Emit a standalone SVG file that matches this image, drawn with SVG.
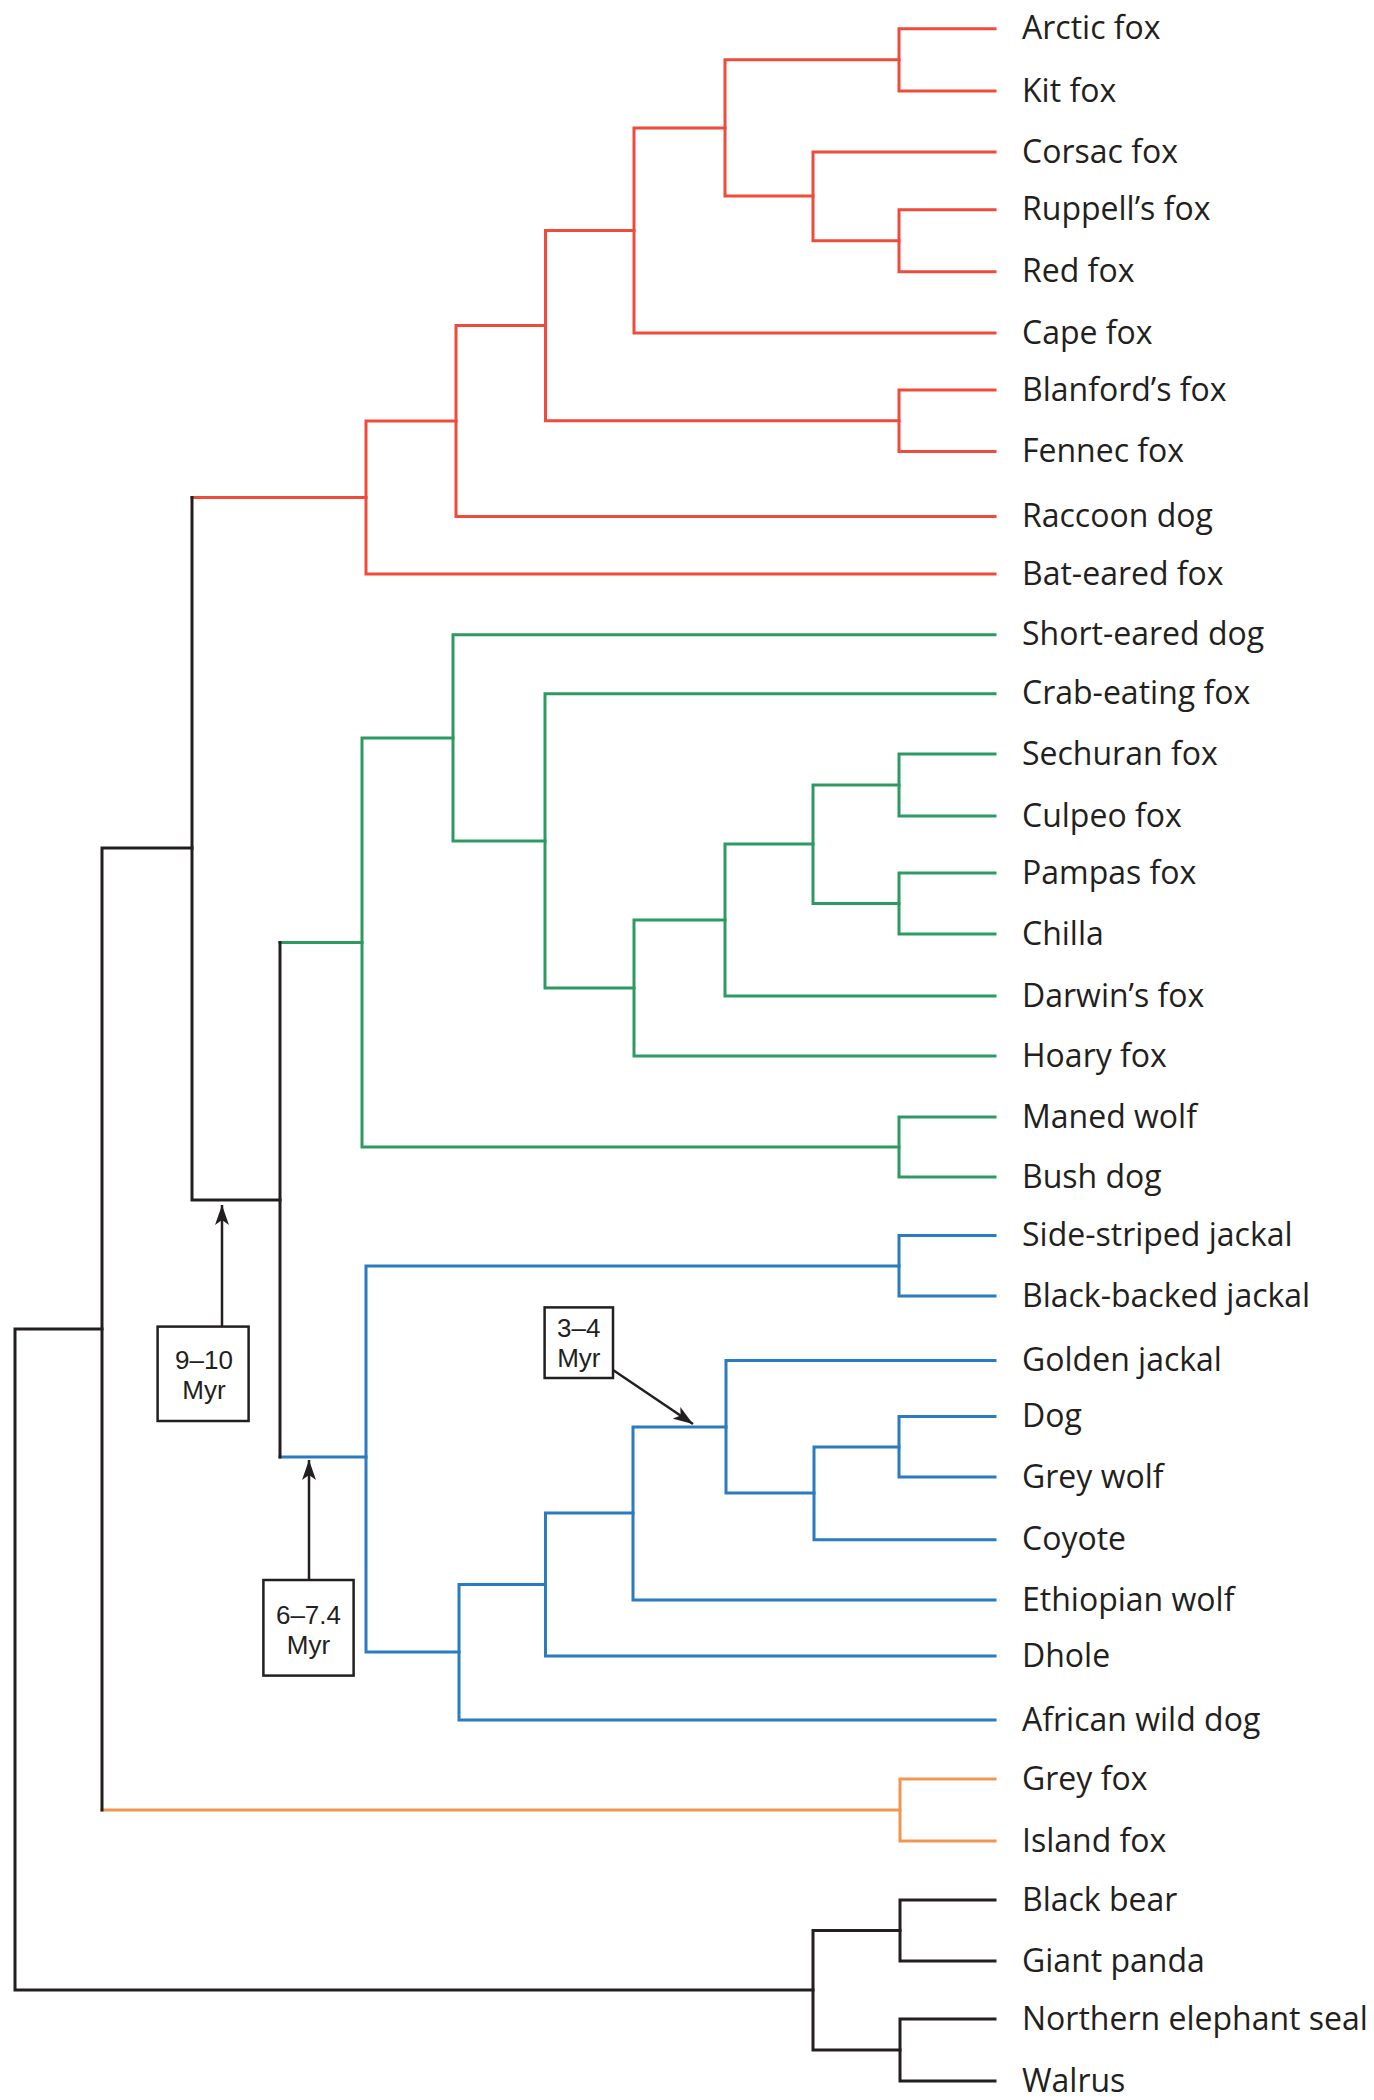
<svg xmlns="http://www.w3.org/2000/svg" width="1374" height="2100" viewBox="0 0 1374 2100">
<style>
  .br{fill:none;stroke-width:3;stroke-linecap:square;stroke-linejoin:miter}
  .red{stroke:#EE4B3A}
  .grn{stroke:#2E9A63}
  .blu{stroke:#2A7BBF}
  .org{stroke:#F29553}
  .blk{stroke:#231F20}
  .lbl{font-family:"Open Sans","Liberation Sans",sans-serif;font-size:32px;fill:#231F20}
  .age{font-family:"Liberation Sans",Arial,sans-serif;font-size:26px;fill:#231F20;text-anchor:middle}
  .box{fill:#FFFFFF;stroke:#231F20;stroke-width:2.5}
  .arr{stroke:#231F20;stroke-width:2.5;fill:none}
</style>
<defs>
  <marker id="ah" markerUnits="userSpaceOnUse" markerWidth="20" markerHeight="14" refX="20" refY="7" orient="auto">
    <path d="M0,0 L20,7 L0,14 L5,7 z" fill="#231F20"/>
  </marker>
</defs>
<rect width="1374" height="2100" fill="#FFFFFF"/>
<g id="connectors">
  <g class="br red">
    <path d="M995,28.7 H899 V91 H995"/>
    <path d="M995,209.7 H899 V271.7 H995"/>
    <path d="M995,390 H899 V451.6 H995"/>
    <path d="M995,152 H813 V240.7 H899"/>
    <path d="M899,59.85 H725 V196 H813"/>
    <path d="M725,128 H634 V333 H995"/>
    <path d="M634,230.5 H545.5 V420.8 H899"/>
    <path d="M545.5,325.6 H456 V516.6 H995"/>
    <path d="M456,421 H366 V574 H995"/>
    <path d="M192,497.5 H366"/>
  </g>
  <g class="br grn">
    <path d="M995,754 H899 V816 H995"/>
    <path d="M995,873 H899 V934 H995"/>
    <path d="M899,785 H813 V903.5 H899"/>
    <path d="M813,844 H725 V996 H995"/>
    <path d="M725,920 H634 V1056 H995"/>
    <path d="M995,693.7 H545 V988 H634"/>
    <path d="M995,634.7 H453 V841 H545"/>
    <path d="M995,1117 H899 V1177 H995"/>
    <path d="M453,738 H362 V1147 H899"/>
    <path d="M280,942.5 H362"/>
  </g>
  <g class="br blu">
    <path d="M995,1235.5 H899 V1296 H995"/>
    <path d="M995,1416.5 H899 V1477 H995"/>
    <path d="M899,1447 H814 V1539.7 H995"/>
    <path d="M995,1360.6 H726 V1493 H814"/>
    <path d="M726,1427 H633 V1600 H995"/>
    <path d="M633,1513 H545.5 V1656 H995"/>
    <path d="M545.5,1584.5 H459 V1720 H995"/>
    <path d="M899,1266 H366 V1652 H459"/>
    <path d="M280,1457 H366"/>
  </g>
  <g class="br org">
    <path d="M102,1810 H900"/>
    <path d="M995,1779 H900 V1841 H995"/>
  </g>
  <g class="br blk">
    <path d="M192,497.5 V1200 H280"/>
    <path d="M280,942.5 V1457"/>
    <path d="M192,848 H102 V1810"/>
    <path d="M102,1329 H15 V1990 H813"/>
    <path d="M900,1930.5 H813 V2050 H900"/>
    <path d="M995,1900 H900 V1961 H995"/>
    <path d="M995,2019 H900 V2081 H995"/>
  </g>
  <g id="age-arrows">
    <line class="arr" x1="222" y1="1326.6" x2="222" y2="1205" marker-end="url(#ah)"/>
    <line class="arr" x1="309" y1="1580" x2="309" y2="1460" marker-end="url(#ah)"/>
    <line class="arr" x1="613" y1="1370" x2="693" y2="1424" marker-end="url(#ah)"/>
  </g>
</g>
<g id="leaves">
  <g id="n-arctic-fox"><text class="lbl" x="1022" y="39.3">Arctic fox</text></g>
  <g id="n-kit-fox"><text class="lbl" x="1022" y="101.6">Kit fox</text></g>
  <g id="n-corsac-fox"><text class="lbl" x="1022" y="162.6">Corsac fox</text></g>
  <g id="n-ruppells-fox"><text class="lbl" x="1022" y="220.3">Ruppell’s fox</text></g>
  <g id="n-red-fox"><text class="lbl" x="1022" y="282.3">Red fox</text></g>
  <g id="n-cape-fox"><text class="lbl" x="1022" y="343.6">Cape fox</text></g>
  <g id="n-blanfords-fox"><text class="lbl" x="1022" y="400.6">Blanford’s fox</text></g>
  <g id="n-fennec-fox"><text class="lbl" x="1022" y="462.2">Fennec fox</text></g>
  <g id="n-raccoon-dog"><text class="lbl" x="1022" y="527.2">Raccoon dog</text></g>
  <g id="n-bat-eared-fox"><text class="lbl" x="1022" y="584.6">Bat-eared fox</text></g>
  <g id="n-short-eared-dog"><text class="lbl" x="1022" y="645.3">Short-eared dog</text></g>
  <g id="n-crab-eating-fox"><text class="lbl" x="1022" y="704.3">Crab-eating fox</text></g>
  <g id="n-sechuran-fox"><text class="lbl" x="1022" y="764.6">Sechuran fox</text></g>
  <g id="n-culpeo-fox"><text class="lbl" x="1022" y="826.6">Culpeo fox</text></g>
  <g id="n-pampas-fox"><text class="lbl" x="1022" y="883.6">Pampas fox</text></g>
  <g id="n-chilla"><text class="lbl" x="1022" y="944.6">Chilla</text></g>
  <g id="n-darwins-fox"><text class="lbl" x="1022" y="1006.6">Darwin’s fox</text></g>
  <g id="n-hoary-fox"><text class="lbl" x="1022" y="1066.6">Hoary fox</text></g>
  <g id="n-maned-wolf"><text class="lbl" x="1022" y="1127.6">Maned wolf</text></g>
  <g id="n-bush-dog"><text class="lbl" x="1022" y="1187.6">Bush dog</text></g>
  <g id="n-side-striped-jackal"><text class="lbl" x="1022" y="1246.1">Side-striped jackal</text></g>
  <g id="n-black-backed-jackal"><text class="lbl" x="1022" y="1306.6">Black-backed jackal</text></g>
  <g id="n-golden-jackal"><text class="lbl" x="1022" y="1371.2">Golden jackal</text></g>
  <g id="n-dog"><text class="lbl" x="1022" y="1427.1">Dog</text></g>
  <g id="n-grey-wolf"><text class="lbl" x="1022" y="1487.6">Grey wolf</text></g>
  <g id="n-coyote"><text class="lbl" x="1022" y="1550.3">Coyote</text></g>
  <g id="n-ethiopian-wolf"><text class="lbl" x="1022" y="1610.6">Ethiopian wolf</text></g>
  <g id="n-dhole"><text class="lbl" x="1022" y="1666.6">Dhole</text></g>
  <g id="n-african-wild-dog"><text class="lbl" x="1022" y="1730.6">African wild dog</text></g>
  <g id="n-grey-fox"><text class="lbl" x="1022" y="1789.6">Grey fox</text></g>
  <g id="n-island-fox"><text class="lbl" x="1022" y="1851.6">Island fox</text></g>
  <g id="n-black-bear"><text class="lbl" x="1022" y="1910.6">Black bear</text></g>
  <g id="n-giant-panda"><text class="lbl" x="1022" y="1971.6">Giant panda</text></g>
  <g id="n-northern-elephant-seal"><text class="lbl" x="1022" y="2029.6">Northern elephant seal</text></g>
  <g id="n-walrus"><text class="lbl" x="1022" y="2091.6">Walrus</text></g>
</g>
<g id="age-9-10">
  <rect class="box" x="157.6" y="1326.6" width="91" height="94.4"/>
  <text class="age" x="204" y="1369">9–10</text>
  <text class="age" x="204" y="1399">Myr</text>
</g>
<g id="age-6-7-4">
  <rect class="box" x="263.4" y="1580" width="90.2" height="95.6"/>
  <text class="age" x="308.5" y="1624">6–7.4</text>
  <text class="age" x="308.5" y="1654">Myr</text>
</g>
<g id="age-3-4">
  <rect class="box" x="544.6" y="1307.4" width="68.4" height="70.6"/>
  <text class="age" x="578.8" y="1337">3–4</text>
  <text class="age" x="578.8" y="1367">Myr</text>
</g>
</svg>
